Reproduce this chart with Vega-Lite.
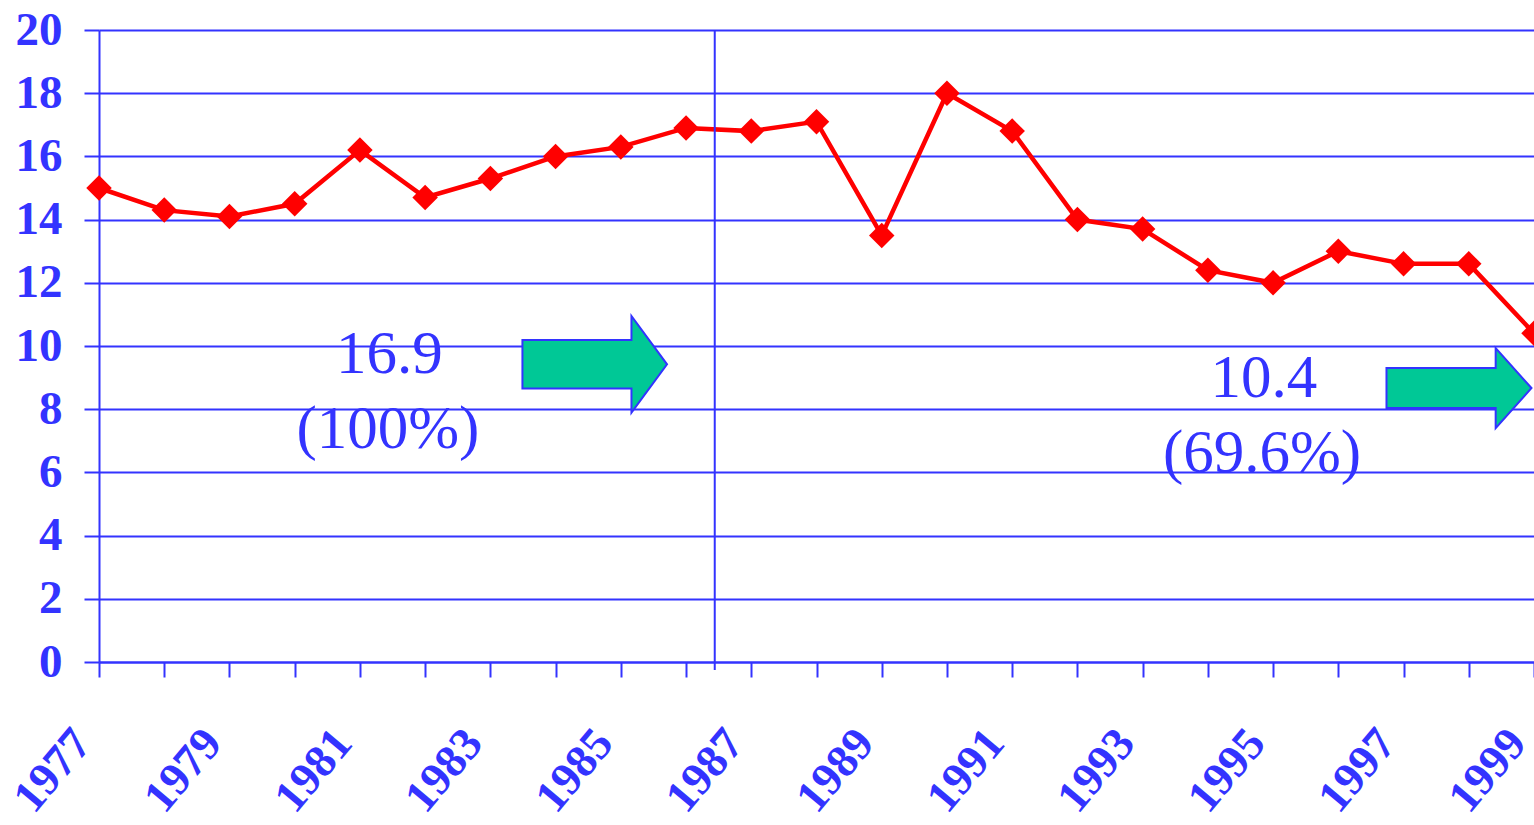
{
  "$schema": "https://vega.github.io/schema/vega-lite/v6.json",
  "width": 1435,
  "height": 632,
  "autosize": "none",
  "padding": {"left": 99, "top": 30, "right": 0, "bottom": 163},
  "background": "white",
  "datasets": {
    "series": [
      {"year": 1977, "value": 15.0},
      {"year": 1978, "value": 14.3},
      {"year": 1979, "value": 14.1},
      {"year": 1980, "value": 14.5},
      {"year": 1981, "value": 16.2},
      {"year": 1982, "value": 14.7},
      {"year": 1983, "value": 15.3},
      {"year": 1984, "value": 16.0},
      {"year": 1985, "value": 16.3},
      {"year": 1986, "value": 16.9},
      {"year": 1987, "value": 16.8},
      {"year": 1988, "value": 17.1},
      {"year": 1989, "value": 13.5},
      {"year": 1990, "value": 18.0},
      {"year": 1991, "value": 16.8},
      {"year": 1992, "value": 14.0},
      {"year": 1993, "value": 13.7},
      {"year": 1994, "value": 12.4},
      {"year": 1995, "value": 12.0},
      {"year": 1996, "value": 13.0},
      {"year": 1997, "value": 12.6},
      {"year": 1998, "value": 12.6},
      {"year": 1999, "value": 10.4}
    ],
    "divider": [{"year": 1986.44, "value": 20, "value2": -0.25}],
    "arrowA": [{"year": 1984.6, "value": 9.42}],
    "arrowB": [{"year": 1997.85, "value": 8.67}],
    "notes": [
      {"year": 1981.45, "value": 9.15, "label": "16.9"},
      {"year": 1981.43, "value": 6.77, "label": "(100%)"},
      {"year": 1994.86, "value": 8.39, "label": "10.4"},
      {"year": 1994.83, "value": 6.01, "label": "(69.6%)"}
    ]
  },
  "encoding": {
    "x": {
      "field": "year", "type": "quantitative",
      "scale": {"domain": [1977, 1999], "nice": false, "zero": false},
      "axis": {
        "title": null,
        "values": [1977,1978,1979,1980,1981,1982,1983,1984,1985,1986,1987,1988,1989,1990,1991,1992,1993,1994,1995,1996,1997,1998,1999],
        "labelExpr": "datum.value % 2 == 1 ? '' + datum.value : ''",
        "grid": false,
        "domainColor": "#3333ff", "domainWidth": 2,
        "tickColor": "#3333ff", "tickWidth": 2, "tickSize": 15,
        "labelFont": "Liberation Serif", "labelFontWeight": "bold", "labelFontSize": 46,
        "labelColor": "#3333ff", "labelAngle": -50, "labelAlign": "right", "labelBaseline": "middle",
        "labelPadding": 58, "labelOffset": -17, "labelOverlap": false, "labelBound": false, "labelFlush": false
      }
    },
    "y": {
      "field": "value", "type": "quantitative",
      "scale": {"domain": [0, 20], "nice": false},
      "axis": {
        "title": null,
        "values": [0,2,4,6,8,10,12,14,16,18,20],
        "grid": true, "gridColor": "#3333ff", "gridWidth": 2, "gridOpacity": 1,
        "domainColor": "#3333ff", "domainWidth": 2,
        "tickColor": "#3333ff", "tickWidth": 2, "tickSize": 15,
        "labelFont": "Liberation Serif", "labelFontWeight": "bold", "labelFontSize": 47,
        "labelColor": "#3333ff", "labelPadding": 22, "labelBaseline": "middle",
        "labelOverlap": false, "labelBound": false, "labelFlush": false
      }
    }
  },
  "layer": [
    {
      "data": {"name": "series"},
      "mark": {"type": "line", "color": "#ff0000", "strokeWidth": 4.5}
    },
    {
      "data": {"name": "divider"},
      "mark": {"type": "rule", "color": "#3333ff", "strokeWidth": 2},
      "encoding": {
        "y2": {"field": "value2"}
      }
    },
    {
      "data": {"name": "series"},
      "mark": {"type": "point", "shape": "diamond", "filled": true, "color": "#ff0000", "size": 650, "opacity": 1}
    },
    {
      "data": {"name": "arrowA"},
      "mark": {"type": "point", "shape": "M-1,-0.335L0.508,-0.335L0.508,-0.668L1,0L0.508,0.668L0.508,0.335L-1,0.335Z", "filled": true, "fill": "#00c896", "stroke": "#3333ff", "strokeWidth": 2, "size": 20910, "opacity": 1, "fillOpacity": 1}
    },
    {
      "data": {"name": "arrowB"},
      "mark": {"type": "point", "shape": "M-1,-0.276L0.506,-0.276L0.506,-0.552L1,0L0.506,0.552L0.506,0.276L-1,0.276Z", "filled": true, "fill": "#00c896", "stroke": "#3333ff", "strokeWidth": 2, "size": 21025, "opacity": 1, "fillOpacity": 1}
    },
    {
      "data": {"name": "notes"},
      "mark": {"type": "text", "font": "Liberation Serif", "fontSize": 61, "color": "#3333ff", "align": "center", "baseline": "alphabetic"},
      "encoding": {
        "text": {"field": "label"}
      }
    }
  ],
  "config": {
    "view": {"stroke": null}
  }
}
